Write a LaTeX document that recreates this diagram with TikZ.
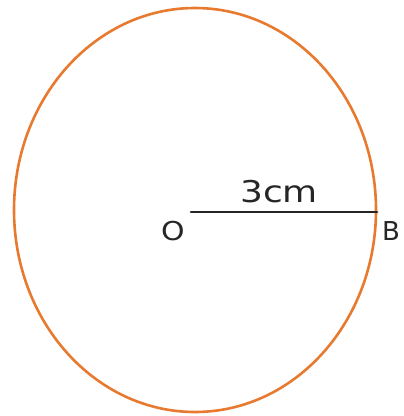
\documentclass[tikz,border=0pt]{standalone}
\usepackage{fontspec}
\setmainfont{DejaVu Sans}
\definecolor{arc}{RGB}{232,122,48}
\tikzset{
  lbl/.style={inner sep=0pt, font=\fontsize{26}{26}\selectfont, text=black!85},
  radius line/.style={line width=2.8pt, black!85, line cap=round},
  circ/.style={line width=2.6pt, arc}
}
\begin{document}
\begin{tikzpicture}[x=1pt,y=-1pt]
\useasboundingbox (0,0) rectangle (404,416);
\draw[circ] (195,210) ellipse [x radius=181, y radius=202];
\coordinate (o) at (191,212);
\coordinate (b) at (377,212);
\draw[radius line] (o) -- (b);
\node[lbl, xscale=1.15] (O) at (173,231) {O};
\node[lbl] (B) at (391,231) {B};
\node[lbl, xscale=1.2, font=\fontsize{30}{30}\selectfont] (L) at (279,192) {3cm};
\end{tikzpicture}
\end{document}
